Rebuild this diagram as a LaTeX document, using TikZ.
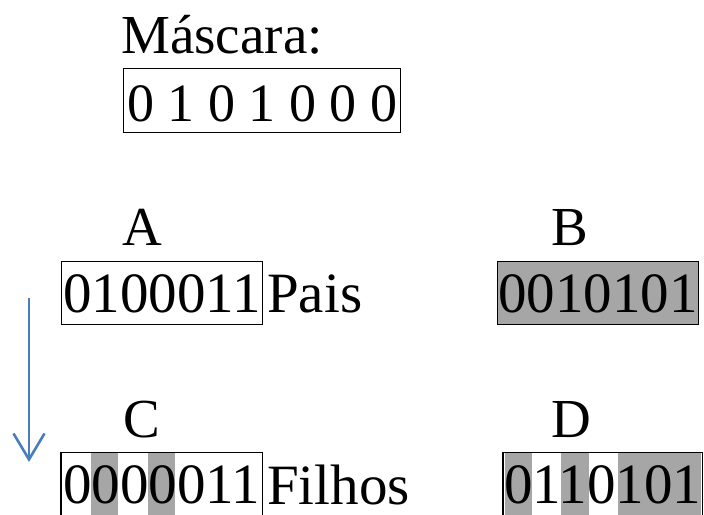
\documentclass[tikz,border=0pt]{standalone}
\usepackage{fontspec}
\setmainfont{Liberation Serif}
\usetikzlibrary{arrows.meta}
\definecolor{boxgray}{RGB}{166,166,166}
\definecolor{arrowblue}{RGB}{74,126,187}
\tikzset{
  bigtxt/.style={font=\fontsize{57}{60}\selectfont},
  midtxt/.style={font=\fontsize{55}{58}\selectfont},
  masktxt/.style={font=\fontsize{54}{57}\selectfont},
  label/.style={midtxt, inner sep=0pt, anchor=base west},
  boxline/.style={draw=black, line width=1.2pt},
  rowbox/.style={bigtxt, boxline, inner sep=0pt,
    text height=51pt, text depth=12pt, anchor=north west, align=center},
  openbox/.style={bigtxt, inner sep=0pt,
    text height=51pt, text depth=8pt, anchor=north west, align=center},
  stripe/.style={fill=boxgray, draw=none},
  flowarrow/.style={draw=arrowblue, line width=2.6pt,
    -{Straight Barb[length=26pt,width=31pt,line width=2.6pt]}}
}
\begin{document}
\begin{tikzpicture}[x=1pt,y=-1pt]
\clip (0,0) rectangle (704,514);
\fill[white] (0,0) rectangle (704,514);

% mask
\node[label] (masklbl) at (121,53) {Máscara:};
\node[masktxt, boxline, inner sep=0pt, anchor=north west,
  minimum width=277pt, text height=52.7pt, text depth=11.3pt] (mask) at (123,68) {0 1 0 1 0 0 0};

% parents
\node[label] (lA) at (122,245) {A};
\node[label] (lB) at (551,245) {B};
\node[rowbox, minimum width=201pt] (A) at (61,261) {0100011};
\node[rowbox, minimum width=201pt, fill=boxgray] (B) at (497,261) {0010101};
\node[bigtxt, inner sep=0pt, anchor=base west] (pais) at (267,312) {Pais};

% children stripes
\fill[stripe] (91,452.7) rectangle (118.3,520);
\fill[stripe] (147.7,452.7) rectangle (175,520);
\fill[stripe] (505,452.7) rectangle (532,520);
\fill[stripe] (561,452.7) rectangle (588.5,520);
\fill[stripe] (618,452.7) rectangle (700.5,520);

% children
\node[label] (lC) at (123.5,437) {C};
\node[label] (lD) at (551,437) {D};
\node[openbox, minimum width=201pt] (C) at (61,452.7) {0000011};
\node[openbox, minimum width=199pt] (D) at (503,452.7) {0110101};
\draw[boxline] ([yshift=-12pt]C.south west) -- (C.north west) -- (C.north east) -- ([yshift=-12pt]C.south east);
\draw[boxline] ([yshift=-12pt]D.south west) -- (D.north west) -- (D.north east) -- ([yshift=-12pt]D.south east);
\node[bigtxt, inner sep=0pt, anchor=base west] (filhos) at (267,504) {Filhos};

% arrow
\coordinate (arrS) at (29,298);
\coordinate (arrE) at (29,462);
\draw[flowarrow] (arrS) -- (arrE);
\end{tikzpicture}
\end{document}
